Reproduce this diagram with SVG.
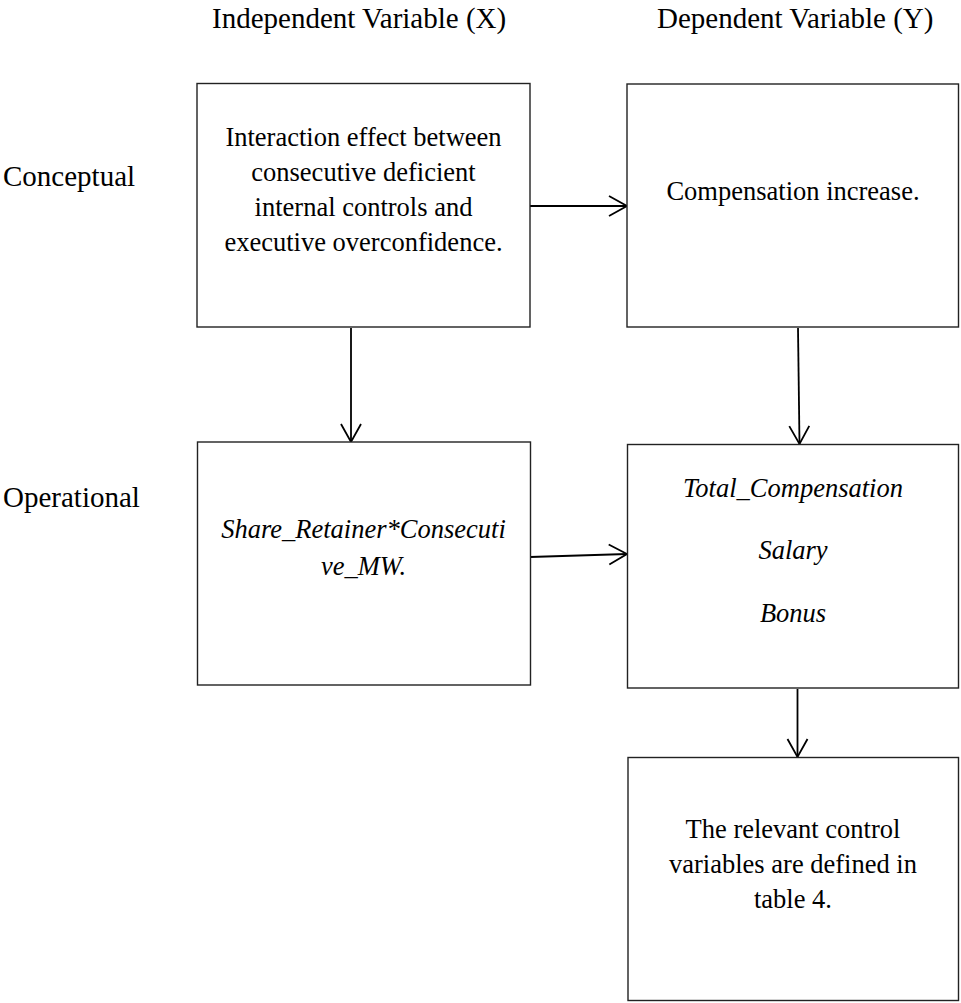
<svg xmlns="http://www.w3.org/2000/svg" width="961" height="1003" viewBox="0 0 961 1003">
<defs>
<style>
.box{fill:#fff;stroke:#222;stroke-width:1.4}
.t{font-family:"Liberation Serif","Times New Roman",serif;font-size:26.5px;fill:#000;text-anchor:middle}
.i{font-style:italic}
.h{font-family:"Liberation Serif","Times New Roman",serif;font-size:29px;fill:#000}
.c{fill:none;stroke:#000;stroke-width:1.8}
</style>
<marker id="arr" markerUnits="userSpaceOnUse" viewBox="-20 -12 22 24" refX="0" refY="0" markerWidth="22" markerHeight="24" orient="auto">
<path d="M-18,-10 L0,0 L-18,10" fill="none" stroke="#000" stroke-width="1.8"/>
</marker>
</defs>
<rect width="961" height="1003" fill="#fff"/>
<g id="headers">
<text class="h" x="212" y="28">Independent Variable (X)</text>
<text class="h" x="657" y="28">Dependent Variable (Y)</text>
<text class="h" x="3" y="186">Conceptual</text>
<text class="h" x="3" y="507">Operational</text>
</g>
<g id="connectors">
<line class="c" x1="530" y1="206" x2="627" y2="206" marker-end="url(#arr)"/>
<line class="c" x1="351" y1="328" x2="351" y2="442" marker-end="url(#arr)"/>
<line class="c" x1="530" y1="557" x2="627" y2="554" marker-end="url(#arr)"/>
<line class="c" x1="798" y1="328" x2="799.5" y2="444" marker-end="url(#arr)"/>
<line class="c" x1="797.5" y1="689" x2="797.5" y2="757" marker-end="url(#arr)"/>
</g>
<g id="node-x-conceptual">
<rect class="box" x="197" y="83.5" width="333" height="243.5"/>
<text class="t" x="363.5" y="146">Interaction effect between</text>
<text class="t" x="363.5" y="181">consecutive  deficient</text>
<text class="t" x="363.5" y="216">internal controls and</text>
<text class="t" x="363.5" y="251">executive overconfidence.</text>
</g>
<g id="node-y-conceptual">
<rect class="box" x="627" y="84" width="331.5" height="243"/>
<text class="t" x="793" y="200">Compensation increase.</text>
</g>
<g id="node-x-operational">
<rect class="box" x="197.5" y="442" width="333" height="243"/>
<text class="t i" x="363.5" y="538">Share_Retainer*Consecuti</text>
<text class="t i" x="363.5" y="575">ve_MW.</text>
</g>
<g id="node-y-operational">
<rect class="box" x="627.5" y="444.5" width="331" height="243.5"/>
<text class="t i" x="793" y="497">Total_Compensation</text>
<text class="t i" x="793" y="559">Salary</text>
<text class="t i" x="793" y="622">Bonus</text>
</g>
<g id="node-controls">
<rect class="box" x="628" y="757.5" width="330.5" height="243"/>
<text class="t" x="793" y="838">The relevant control</text>
<text class="t" x="793" y="873">variables are defined in</text>
<text class="t" x="793" y="908">table 4.</text>
</g>
</svg>
